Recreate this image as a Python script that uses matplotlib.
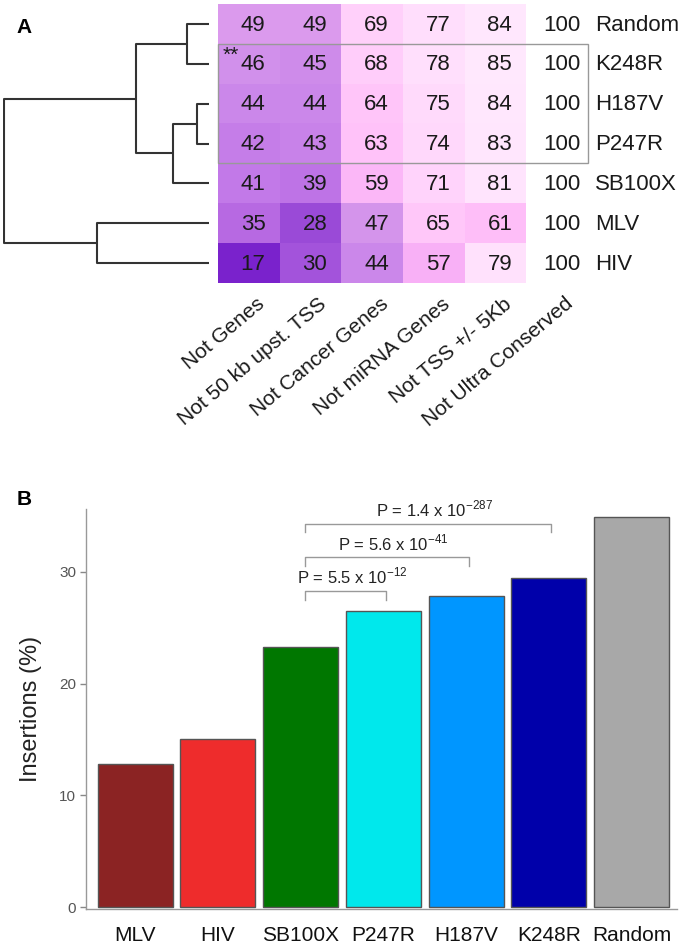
import numpy as np
import matplotlib
matplotlib.use('Agg')
import matplotlib.pyplot as plt
from matplotlib.colors import LinearSegmentedColormap
from matplotlib.patches import Rectangle

plt.rcParams['font.family'] = ['Liberation Sans', 'DejaVu Sans']
plt.rcParams['mathtext.fontset'] = 'custom'
plt.rcParams['mathtext.rm'] = 'Liberation Sans'

# ---- panel A: % insertions outside each region ----
vectors = ['Random', 'K248R', 'H187V', 'P247R', 'SB100X', 'MLV', 'HIV']
regions = ['Not Genes', 'Not 50 kb upst. TSS', 'Not Cancer Genes',
           'Not miRNA Genes', 'Not TSS +/- 5Kb', 'Not Ultra Conserved']
not_genes = [49, 46, 44, 42, 41, 35, 17]
not_50kb = [49, 45, 44, 43, 39, 28, 30]
not_cancer = [69, 68, 64, 63, 59, 47, 44]
not_mirna = [77, 78, 75, 74, 71, 65, 57]
not_tss = [84, 85, 84, 83, 81, 61, 79]
not_ultra = [100, 100, 100, 100, 100, 100, 100]

# hierarchical clustering, scipy style (left, right, height); new ids start at 7
merges = [(2, 3, 12), (0, 1, 22), (7, 4, 36), (8, 9, 73), (5, 6, 112), (10, 11, 205)]

# ---- panel B ----
strains = ['MLV', 'HIV', 'SB100X', 'P247R', 'H187V', 'K248R', 'Random']
insertions = [12.8, 15.0, 23.3, 26.5, 27.8, 29.4, 34.9]
bar_colors = ['#8b2323', '#ee2c2c', '#007700', '#00e8ec', '#0096ff', '#0000aa', '#a8a8a8']
p_mant = ['5.5', '5.6', '1.4']
p_exp = ['-12', '-41', '-287']
p_pairs = [(2, 3), (2, 4), (2, 5)]

W, H = 693, 943
fig = plt.figure(figsize=(W / 100, H / 100), dpi=100)


def box(l, t, r, b):
    return [l / W, 1 - b / H, (r - l) / W, (b - t) / H]


# heatmap
mat = np.column_stack([not_genes, not_50kb, not_cancer, not_mirna, not_tss, not_ultra])
stops = [17, 28, 35, 41, 47, 57, 61, 70, 80, 86, 100]
stop_cols = ['#7a22cc', '#9b4bd8', '#b86ae3', '#c279e8', '#d595ec', '#f8b0f6',
             '#ffbff9', '#ffd2fb', '#ffe3fd', '#ffeafe', '#ffffff']
cmap = LinearSegmentedColormap.from_list(
    'pp', [((s - 17) / 83, c) for s, c in zip(stops, stop_cols)])

axh = fig.add_axes(box(218, 4, 588, 283))
axh.imshow(mat, cmap=cmap, vmin=17, vmax=100, aspect='auto')
for i in range(mat.shape[0]):
    for j in range(mat.shape[1]):
        axh.text(j + 0.07, i + 0.03, str(mat[i, j]), ha='center', va='center',
                 fontsize=16, color='#1a1a1a')
    axh.text(5.62, i + 0.03, vectors[i], ha='left', va='center', fontsize=16,
             color='#1a1a1a', clip_on=False)
for j, lab in enumerate(regions):
    axh.text(j + 0.12, 6.78, lab, rotation=40, rotation_mode='anchor',
             ha='right', va='top', fontsize=15, color='#1a1a1a', clip_on=False)
axh.add_patch(Rectangle((-0.5, 0.5), 6.0, 3.0, fill=False, ec='#999999', lw=1.0,
                        clip_on=False))
axh.text(-0.43, 0.55, '**', ha='left', va='top', fontsize=15, color='#1a1a1a')
axh.set_xlim(-0.5, 5.5)
axh.set_ylim(6.5, -0.5)
axh.axis('off')

# dendrogram
axd = fig.add_axes(box(3, 4, 209, 283))
ypos = {i: float(i) for i in range(len(vectors))}
hgt = {i: 0.0 for i in range(len(vectors))}
for k, (a, b, h) in enumerate(merges):
    axd.plot([hgt[a], h, h, hgt[b]], [ypos[a], ypos[a], ypos[b], ypos[b]],
             color='#333333', lw=1.5, solid_capstyle='butt')
    ypos[len(vectors) + k] = (ypos[a] + ypos[b]) / 2
    hgt[len(vectors) + k] = h
axd.set_xlim(206, 0)
axd.set_ylim(6.5, -0.5)
axd.axis('off')

fig.text(16 / W, 1 - 33 / H, 'A', fontsize=15, fontweight='bold', va='baseline')
fig.text(17 / W, 1 - 505 / H, 'B', fontsize=15, fontweight='bold', va='baseline')

# bar chart
axb = fig.add_axes(box(86, 509, 677, 909))
x = np.arange(len(strains))
axb.bar(x, insertions, width=0.907, color=bar_colors, edgecolor='#555555', linewidth=1.0)
axb.set_xlim(-0.595, 6.55)
axb.set_ylim(-0.15, 35.6)
axb.set_xticks(x)
axb.set_xticklabels(strains, fontsize=15, color='#111111')
axb.tick_params(axis='x', length=0, pad=12)
axb.set_yticks([0, 10, 20, 30])
axb.tick_params(axis='y', labelsize=11, labelcolor='#555555', color='#888888',
                length=4, width=1, pad=3)
for s in ['top', 'right']:
    axb.spines[s].set_visible(False)
for s in ['left', 'bottom']:
    axb.spines[s].set_color('#999999')
    axb.spines[s].set_linewidth(1.0)
axb.set_ylabel('Insertions (%)', fontsize=17, color='#222222')
axb.yaxis.set_label_coords(-44 / 591, 0.5)

for k, ((a, b), m, e) in enumerate(zip(p_pairs, p_mant, p_exp)):
    yb = 28.3 + 3.0 * k
    xa, xb = a + 0.05, b + 0.03
    axb.plot([xa, xa, xb, xb], [yb - 0.8, yb, yb, yb - 0.8], color='#999999', lw=1.0)
    axb.text((xa + xb) / 2 + 0.08, yb + 0.35,
             'P = %s x 10$^{\\mathregular{%s}}$' % (m, e),
             ha='center', va='bottom', fontsize=12, color='#222222')

fig.savefig('out.png', dpi=100)
